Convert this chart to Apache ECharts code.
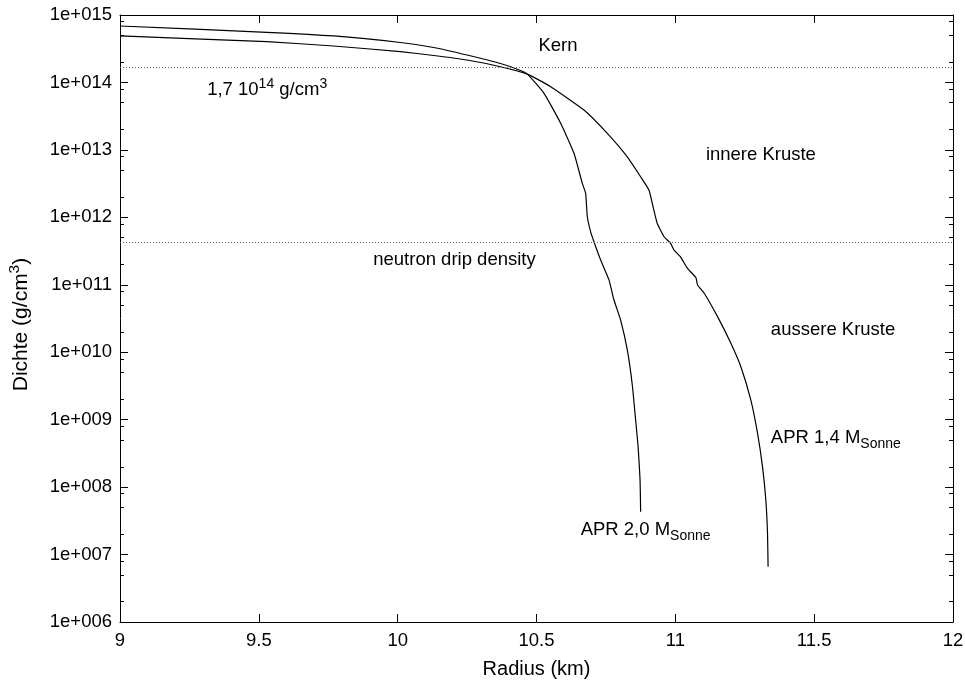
<!DOCTYPE html>
<html>
<head>
<meta charset="utf-8">
<script src="https://cdn.jsdelivr.net/npm/echarts@6/dist/echarts.min.js"></script>
<style>html,body{margin:0;padding:0;background:#fff}#c{width:965px;height:684px}</style>
</head>
<body>
<div id="c"></div>
<script>
// ---- data ----
const radius20 = [9.000, 9.529, 9.769, 10.010, 10.130, 10.250, 10.370, 10.431, 10.467, 10.527, 10.587, 10.635, 10.665, 10.677, 10.683, 10.695, 10.707, 10.731, 10.761, 10.779, 10.803, 10.827, 10.845, 10.857, 10.866, 10.873, 10.875];
const density20 = [6.87e14, 5.54e14, 4.89e14, 3.91e14, 3.30e14, 2.55e14, 1.91e14, 1.57e14, 1.33e14, 6.9e13, 2.48e13, 8.9e12, 3.19e12, 2.27e12, 1.02e12, 6.1e11, 4.35e11, 2.33e11, 1.18e11, 5.94e10, 3.0e10, 1.08e10, 3.27e9, 9.9e8, 3.93e8, 1.27e8, 4.3e7];

const radius14 = [9.000, 9.529, 9.769, 10.010, 10.130, 10.250, 10.370, 10.467, 10.551, 10.671, 10.755, 10.827, 10.875, 10.905, 10.917, 10.935, 10.959, 10.983, 10.995, 11.018, 11.043, 11.074, 11.080, 11.104, 11.152, 11.200, 11.236, 11.272, 11.296, 11.314, 11.326, 11.332, 11.334];
const density14 = [4.89e14, 4.02e14, 3.47e14, 2.86e14, 2.51e14, 2.15e14, 1.71e14, 1.33e14, 8.65e13, 3.9e13, 1.76e13, 7.9e12, 4.0e12, 2.54e12, 1.61e12, 8.1e11, 5.2e11, 4.1e11, 3.28e11, 2.61e11, 1.77e11, 1.28e11, 9.9e10, 7.5e10, 3.37e10, 1.36e10, 6.1e9, 1.95e9, 6.3e8, 2.0e8, 6.4e7, 2.07e7, 6.6e6];

const xTickValues = [9, 9.5, 10, 10.5, 11, 11.5, 12];
const yMajorTicks = [1e6, 1e7, 1e8, 1e9, 1e10, 1e11, 1e12, 1e13, 1e14, 1e15];
const yMinorMantissas = [2, 5, 8];
const refLevels = [1.7e14, 4.3e11];

// annotation anchors in data coordinates (left edge, vertical middle)
const annoX = [10.507, 9.314, 11.110, 9.912, 11.344, 11.344, 10.659];
const annoY = [3.47e14, 7.7e13, 8.4e12, 2.33e11, 2.13e10, 5.35e8, 2.31e7];
const annoText = [
  '{t|Kern}',
  '{t|1,7 10}{sup|14}{t| g/cm}{sup|3}',
  '{t|innere Kruste}',
  '{t|neutron drip density}',
  '{t|aussere Kruste}',
  '{t|APR 1,4 M}{sub|Sonne}',
  '{t|APR 2,0 M}{sub|Sonne}'
];

// ---- chart ----
const FONT = "'Liberation Sans', Arial, Helvetica, sans-serif";
const yMinorTicks = [];
for (let e = 6; e < 15; e++) yMinorMantissas.forEach(m => yMinorTicks.push(m * Math.pow(10, e)));
// log-space round-off makes the axis top a hair below 1e15; nudge the top tick inside
const yTop = yMajorTicks[yMajorTicks.length - 1];
const yMajorTickPos = yMajorTicks.map(v => (v === yTop ? v * (1 - 1e-9) : v));

const richStyles = {
  t: { fontSize: 18.5, lineHeight: 26, fontFamily: FONT, color: '#000' },
  sup: { fontSize: 14, lineHeight: 14, verticalAlign: 'top', fontFamily: FONT, color: '#000' },
  sub: { fontSize: 14, lineHeight: 14, verticalAlign: 'bottom', fontFamily: FONT, color: '#000' }
};
const nameRich = {
  t: { fontSize: 21, lineHeight: 29, fontFamily: FONT, color: '#000' },
  sup: { fontSize: 15.5, lineHeight: 15.5, verticalAlign: 'top', fontFamily: FONT, color: '#000' }
};

const expLabel = v => {
  const e = Math.round(Math.log10(v));
  return '1e+' + String(e).padStart(3, '0');
};

const black = { color: '#000', width: 1 };
const yBase = { type: 'log', logBase: 10, min: 1e6, max: 1e15, splitLine: { show: false }, minorTick: { show: false } };
const xBase = { type: 'value', min: 9, max: 12, interval: 0.5, splitLine: { show: false } };

const option = {
  animation: false,
  backgroundColor: '#fff',
  grid: { left: 120, right: 12, top: 15, bottom: 62, containLabel: false, outerBoundsMode: 'none' },
  xAxis: [
    Object.assign({}, xBase, {
      position: 'bottom',
      axisLine: { show: true, onZero: false, lineStyle: black },
      axisTick: { show: true, inside: true, length: 8, lineStyle: black },
      axisLabel: { show: true, margin: 9, fontSize: 18.5, fontFamily: FONT, color: '#000',
        showMinLabel: true, showMaxLabel: true, hideOverlap: false,
        formatter: v => (xTickValues.indexOf(v) >= 0 ? String(v) : '') },
      name: 'Radius (km)', nameLocation: 'middle', nameGap: 37,
      nameTextStyle: { fontSize: 20, fontFamily: FONT, color: '#000' }
    }),
    Object.assign({}, xBase, {
      position: 'top',
      axisLine: { show: true, onZero: false, lineStyle: black },
      axisTick: { show: true, inside: true, length: 8, lineStyle: black },
      axisLabel: { show: false }
    })
  ],
  yAxis: [
    Object.assign({}, yBase, {
      position: 'left',
      axisLine: { show: true, onZero: false, lineStyle: black },
      axisTick: { show: true, inside: true, length: 8, lineStyle: black, customValues: yMajorTickPos },
      axisLabel: { show: true, margin: 8, fontSize: 18.5, fontFamily: FONT, color: '#000',
        showMinLabel: true, showMaxLabel: true, hideOverlap: false,
        customValues: yMajorTickPos, formatter: expLabel },
      name: '{t|Dichte (g/cm}{sup|3}{t|)}', nameLocation: 'middle', nameGap: 84, nameRotate: 90,
      nameTextStyle: { fontSize: 21, fontFamily: FONT, color: '#000', rich: nameRich, padding: [0, 12, 0, 0] }
    }),
    Object.assign({}, yBase, {
      position: 'left',
      axisLine: { show: false },
      axisTick: { show: true, inside: true, length: 4, lineStyle: black, customValues: yMinorTicks },
      axisLabel: { show: false }
    }),
    Object.assign({}, yBase, {
      position: 'right',
      axisLine: { show: true, onZero: false, lineStyle: black },
      axisTick: { show: true, inside: true, length: 8, lineStyle: black, customValues: yMajorTickPos },
      axisLabel: { show: false }
    }),
    Object.assign({}, yBase, {
      position: 'right',
      axisLine: { show: false },
      axisTick: { show: true, inside: true, length: 4, lineStyle: black, customValues: yMinorTicks },
      axisLabel: { show: false }
    })
  ],
  series: [
    {
      name: 'APR 2,0', type: 'line', xAxisIndex: 0, yAxisIndex: 0,
      data: radius20.map((r, i) => [r, density20[i]]),
      showSymbol: false, symbol: 'none', smooth: 0.15, silent: true,
      lineStyle: { color: '#000', width: 1.2 },
      markLine: {
        silent: true, symbol: 'none', label: { show: false },
        lineStyle: { color: '#666', width: 1, type: [1, 2] },
        data: refLevels.map(v => ({ yAxis: v }))
      }
    },
    {
      name: 'APR 1,4', type: 'line', xAxisIndex: 0, yAxisIndex: 0,
      data: radius14.map((r, i) => [r, density14[i]]),
      showSymbol: false, symbol: 'none', smooth: 0.15, silent: true,
      lineStyle: { color: '#000', width: 1.2 }
    },
    {
      name: 'labels', type: 'scatter', xAxisIndex: 0, yAxisIndex: 0, silent: true,
      symbolSize: 0,
      itemStyle: { opacity: 1, color: 'rgba(0,0,0,0)' },
      data: annoX.map((x, i) => ({ value: [x, annoY[i]], txt: annoText[i] })),
      label: {
        show: true, position: 'right', distance: 0, color: '#000', opacity: 1,
        formatter: p => p.data.txt,
        rich: richStyles
      }
    }
  ]
};

const chart = echarts.init(document.getElementById('c'), null, { renderer: 'canvas' });
chart.setOption(option);
</script>
</body>
</html>
